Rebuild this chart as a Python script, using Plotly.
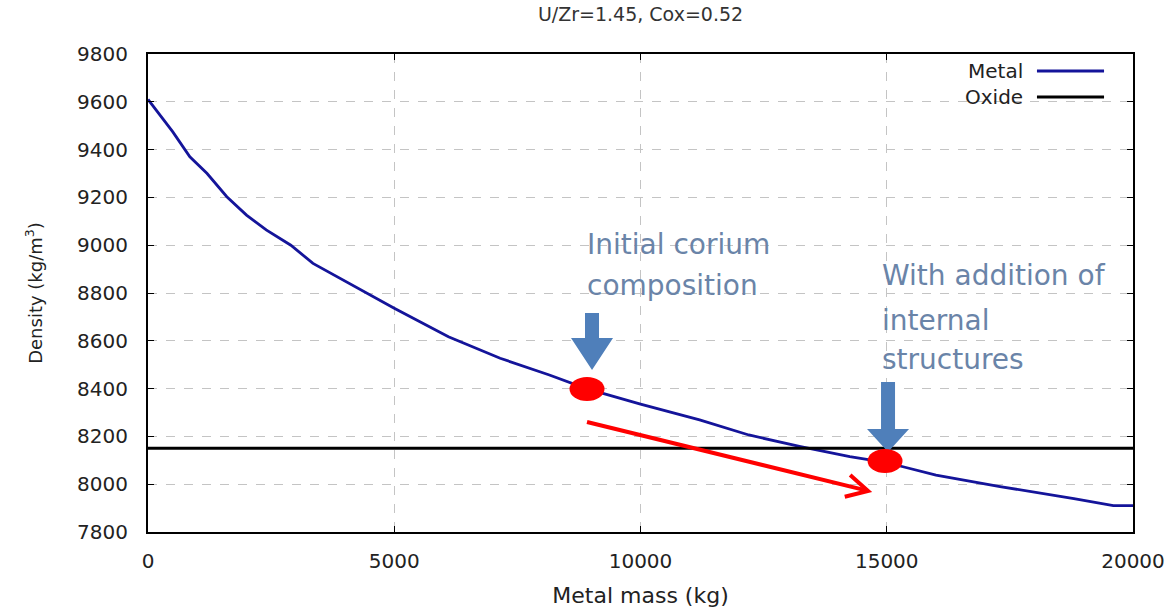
import plotly.graph_objects as go

# ---- data ----
metal_mass = [0, 500, 850, 1200, 1600, 2000, 2400, 2900, 3350, 3900, 4400, 5000,
              6100, 7150, 8150, 8900, 10000, 11200, 12200, 13250, 14250, 15000,
              15350, 16000, 17300, 18000, 18800, 19600, 20000]
metal_density = [9610, 9475, 9370, 9300, 9203, 9126, 9064, 9000, 8924, 8861, 8805, 8736,
                 8617, 8527, 8457, 8400, 8335, 8269, 8206, 8157, 8115, 8090,
                 8072, 8038, 7990, 7968, 7940, 7910, 7910]
oxide_mass = [0, 20000]
oxide_density = [8150, 8150]

highlight_mass = [8914, 14965]
highlight_density = [8398, 8097]

shift_start = (8914, 8260)
shift_end = (14620, 7972)

y_ticks = list(range(7800, 9801, 200))
x_ticks = [0, 5000, 10000, 15000, 20000]

FONT = "DejaVu Sans"
TXT_BLUE = "#6a84a8"

fig = go.Figure()
fig.add_trace(go.Scatter(x=metal_mass, y=metal_density, mode="lines", name="Metal",
                         line=dict(color="#14149a", width=2.8), showlegend=False))
fig.add_trace(go.Scatter(x=oxide_mass, y=oxide_density, mode="lines", name="Oxide",
                         line=dict(color="black", width=3), showlegend=False))

shapes = []
# red shift arrow: shaft + open chevron head anchored at the tip
shapes.append(dict(type="line", xref="x", yref="y", x0=shift_start[0], y0=shift_start[1],
                   x1=shift_end[0], y1=shift_end[1], line=dict(color="#ff0000", width=4),
                   layer="above"))
shapes.append(dict(type="path", xref="x", yref="y", xsizemode="pixel", ysizemode="pixel",
                   xanchor=shift_end[0], yanchor=shift_end[1],
                   path="M -17.9,16 L 0,0 L -23.3,-5.9",
                   line=dict(color="#ff0000", width=4), layer="above"))
# blue down arrows (pixel paths anchored on highlighted points)
arrow_paths = [
    "M -2,76 L 12,76 L 12,51 L 26,51 L 5,19 L -16,51 L -2,51 Z",
    "M -4,79 L 10,79 L 10,32 L 24,32 L 3,9 L -18,32 L -4,32 Z",
]
for (mx, dy), p in zip(zip(highlight_mass, highlight_density), arrow_paths):
    shapes.append(dict(type="path", xref="x", yref="y", xsizemode="pixel", ysizemode="pixel",
                       xanchor=mx, yanchor=dy, path=p, fillcolor="#4f7fba",
                       line=dict(width=0), layer="above"))
for mx, dy in zip(highlight_mass, highlight_density):
    shapes.append(dict(type="circle", xref="x", yref="y", xsizemode="pixel", ysizemode="pixel",
                       xanchor=mx, yanchor=dy, x0=-17.5, x1=17.5, y0=-12, y1=12,
                       fillcolor="#ff0000", line=dict(width=0), layer="above"))
# legend samples
shapes.append(dict(type="line", xref="paper", yref="paper", x0=0.9025, x1=0.9706,
                   y0=0.9644, y1=0.9644, line=dict(color="#14149a", width=3)))
shapes.append(dict(type="line", xref="paper", yref="paper", x0=0.9025, x1=0.9706,
                   y0=0.910, y1=0.910, line=dict(color="black", width=3)))

annotations = [
    dict(xref="paper", yref="paper", x=0.890, y=0.9644, text="Metal", showarrow=False,
         xanchor="right", yanchor="middle", font=dict(family=FONT, size=20, color="#222")),
    dict(xref="paper", yref="paper", x=0.890, y=0.910, text="Oxide", showarrow=False,
         xanchor="right", yanchor="middle", font=dict(family=FONT, size=20, color="#222")),
]
text_lines = [
    ("Initial corium", 8873, 9001),
    ("composition", 8873, 8833),
    ("With addition of", 14863, 8875),
    ("internal", 14863, 8687),
    ("structures", 14863, 8520),
]
for t, x, y in text_lines:
    annotations.append(dict(x=x, y=y, xref="x", yref="y", text=t, showarrow=False,
                            xanchor="left", yanchor="middle",
                            font=dict(family=FONT, size=28, color=TXT_BLUE)))

axis_common = dict(showline=True, linecolor="black", linewidth=2, mirror="allticks",
                   ticks="inside", ticklen=6, tickcolor="black", tickwidth=1,
                   showgrid=True, gridcolor="#c4c4c4", gridwidth=1, griddash="dash",
                   zeroline=False, automargin=False,
                   tickfont=dict(family=FONT, size=20, color="#222"))

fig.update_layout(
    width=1173, height=610,
    margin=dict(l=148, r=40, t=54, b=78),
    paper_bgcolor="white", plot_bgcolor="white",
    title=dict(text="U/Zr=1.45, Cox=0.52", x=0.5, xref="paper", y=1 - 14 / 610,
               yref="container", xanchor="center", yanchor="middle",
               font=dict(family=FONT, size=19, color="#333")),
    xaxis=dict(range=[0, 20000], tickvals=x_ticks, ticktext=[str(v) for v in x_ticks],
               ticklabelstandoff=10,
               title=dict(text="Metal mass (kg)", standoff=16,
                          font=dict(family=FONT, size=22, color="#222")),
               **axis_common),
    yaxis=dict(range=[7800, 9800], tickvals=y_ticks, ticktext=[str(v) for v in y_ticks],
               ticklabelstandoff=14,
               title=dict(text="Density (kg/m<sup>3</sup>)", standoff=30,
                          font=dict(family=FONT, size=18, color="#222")),
               **axis_common),
    shapes=shapes,
    annotations=annotations,
    showlegend=False,
)

fig.write_html("out.html")
